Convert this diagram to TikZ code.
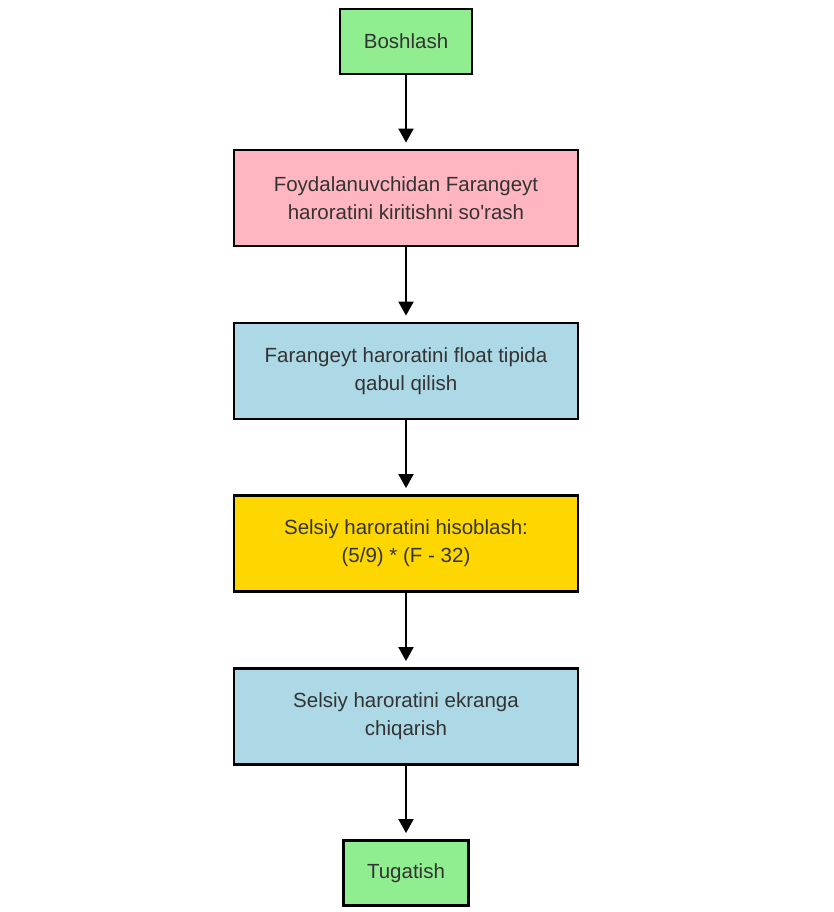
\documentclass[tikz,border=0pt]{standalone}
\usepackage{fontspec}
\setmainfont{Liberation Sans}
\usetikzlibrary{arrows.meta,shadows}
\definecolor{startgreen}{HTML}{90EE90}
\definecolor{askpink}{HTML}{FFB6C1}
\definecolor{iolblue}{HTML}{ADD8E6}
\definecolor{calcgold}{HTML}{FFD700}
\definecolor{txtgray}{HTML}{333333}
\tikzset{
    box/.style={draw=black, line width=2.8pt, text=txtgray, align=center,
                font=\fontsize{20.5}{28}\selectfont,
                drop shadow={shadow xshift=1pt, shadow yshift=-1pt, opacity=0.25, fill=gray}},
    endbox/.style={box, fill=startgreen, minimum height=65pt},
    stepbox/.style={box, minimum width=344pt, minimum height=96pt},
    flow/.style={-{Triangle[length=14pt,width=15pt]}, line width=2pt, shorten >=6pt}
}
\begin{document}
\begin{tikzpicture}[x=1pt,y=1pt]
        \useasboundingbox (0,0) rectangle (833,912);

        \node[endbox, minimum width=132pt] (start) at (406,870.5) {Boshlash};
        \node[stepbox, fill=askpink] (ask) at (406,714) {Foydalanuvchidan Farangeyt\\haroratini kiritishni so\textquotesingle rash};
        \node[stepbox, fill=iolblue] (read) at (406,541) {Farangeyt haroratini float tipida\\qabul qilish};
        \node[stepbox, fill=calcgold] (calc) at (406,368.5) {Selsiy haroratini hisoblash:\\(5/9) * (F - 32)};
        \node[stepbox, fill=iolblue] (show) at (406,195.5) {Selsiy haroratini ekranga\\chiqarish};
        \node[endbox, minimum width=125pt] (stop) at (406,39) {Tugatish};

        \foreach \a/\b in {start/ask,ask/read,read/calc,calc/show,show/stop}{
            \draw[flow] (\a) -- (\b);
        }
    \end{tikzpicture}
\end{document}
